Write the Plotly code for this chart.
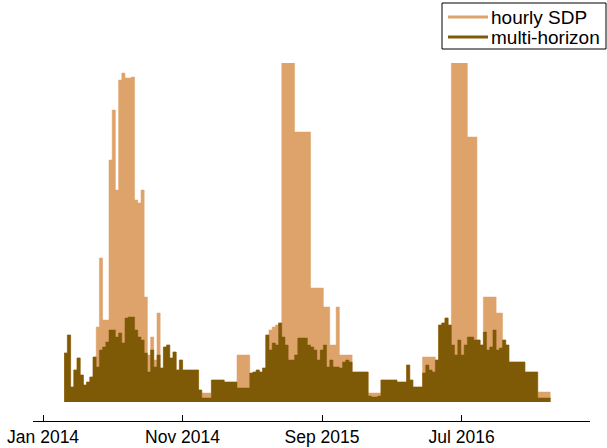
import pandas as pd
import plotly.graph_objects as go

# weekly samples, first and last
start_date = "2014-02-16"
end_date = "2017-01-04"

multi_horizon = [49, 67, 15, 32, 44, 27, 17, 20, 25, 45, 35, 52, 55, 60, 72, 72, 65, 69, 59, 84,
                 85, 85, 72, 65, 62, 49, 30, 52, 35, 47, 34, 55, 57, 44, 50, 32, 42, 32, 32, 32,
                 32, 32, 12, 4, 4, 4, 22, 22, 22, 22, 20, 20, 20, 20, 14, 14, 14, 14, 29, 30,
                 32, 30, 34, 67, 52, 59, 57, 79, 65, 57, 42, 42, 47, 64, 64, 64, 57, 55, 52, 42,
                 52, 57, 35, 42, 35, 35, 34, 40, 42, 40, 30, 30, 30, 30, 30, 6, 5, 5, 6, 22,
                 22, 22, 22, 22, 20, 20, 20, 37, 22, 15, 15, 15, 29, 37, 32, 30, 42, 77, 79, 84,
                 77, 57, 47, 62, 47, 57, 65, 65, 62, 62, 57, 70, 52, 55, 72, 52, 54, 62, 57, 40,
                 40, 40, 40, 40, 30, 30, 30, 30, 4, 4, 4, 4]

hourly_sdp = [49, 67, 15, 32, 44, 27, 17, 20, 25, 45, 75, 144, 82, 82, 242, 292, 212, 322, 329, 324,
              324, 325, 202, 199, 212, 105, 47, 65, 42, 89, 34, 55, 57, 44, 50, 32, 42, 32, 32, 32,
              32, 32, 12, 9, 9, 9, 22, 22, 22, 22, 20, 20, 20, 20, 47, 47, 47, 47, 29, 30,
              32, 30, 34, 67, 72, 75, 77, 79, 360, 360, 360, 360, 270, 270, 270, 270, 270, 114, 114, 114,
              114, 95, 95, 57, 57, 95, 47, 47, 47, 47, 30, 30, 30, 30, 30, 9, 9, 9, 9, 22,
              22, 22, 22, 22, 20, 20, 20, 37, 22, 15, 15, 15, 45, 45, 45, 45, 42, 77, 79, 84,
              77, 360, 360, 360, 360, 360, 265, 265, 265, 62, 57, 105, 105, 105, 105, 89, 89, 62, 57, 40,
              40, 40, 40, 40, 30, 30, 30, 30, 10, 10, 10, 10]

series_names = ["hourly SDP", "multi-horizon"]
tick_labels = ["Jan 2014", "Nov 2014", "Sep 2015", "Jul 2016"]
tick_dates = ["2014-01-01", "2014-11-01", "2015-09-01", "2016-07-01"]

TAN = "#DEA36B"
DARK = "#7F5A06"
colors = [TAN, DARK]

W, H = 607, 448
ML, MR, MT, MB = 33, 17, 63, 27

dates = list(pd.date_range(start_date, end_date, periods=len(multi_horizon)))
step = dates[1] - dates[0]
x = dates + [dates[-1] + step]

fig = go.Figure()
for name, vals, col in zip(series_names, [hourly_sdp, multi_horizon], colors):
    fig.add_trace(go.Scatter(x=x, y=vals + [vals[-1]], mode="lines", name=name,
                             line=dict(shape="hv", width=0.5, color=col),
                             fill="tozeroy", fillcolor=col, showlegend=False, hoverinfo="skip"))

# manual legend (box, line samples, labels) in pixel-derived paper coordinates
pw, ph = W - ML - MR, H - MT - MB
def px(xp):
    return (xp - ML) / pw
def py(yp):
    return (H - MB - yp) / ph

box_l, box_r, box_t, box_b = 442, 606, 3, 49
fig.add_shape(type="rect", xref="paper", yref="paper",
              x0=px(box_l), x1=px(box_r), y0=py(box_b), y1=py(box_t),
              line=dict(color="black", width=1), fillcolor="white", layer="above")
for i, (name, col) in enumerate(zip(series_names, colors)):
    yc = 17 + 20 * i
    fig.add_shape(type="line", xref="paper", yref="paper",
                  x0=px(448), x1=px(488), y0=py(yc), y1=py(yc),
                  line=dict(color=col, width=3), layer="above")
    fig.add_annotation(text=name, xref="paper", yref="paper", x=px(489), y=py(yc + 0.5),
                       xanchor="left", yanchor="middle", showarrow=False,
                       font=dict(size=19, color="black"))

fig.update_layout(
    width=W, height=H,
    margin=dict(l=ML, r=MR, t=MT, b=MB, autoexpand=False),
    paper_bgcolor="white", plot_bgcolor="white",
    font=dict(family="Liberation Sans, Arial, sans-serif", color="black", size=17),
    showlegend=False,
    xaxis=dict(type="date", range=["2013-12-10", "2017-04-07"],
               tickvals=tick_dates, ticktext=tick_labels,
               showline=True, linecolor="black", linewidth=1,
               ticks="inside", ticklen=6, tickcolor="black", tickwidth=1,
               showgrid=False, zeroline=False, tickfont=dict(size=17.5)),
    yaxis=dict(range=[-19, 339], visible=False, showgrid=False, zeroline=False),
)

fig.write_html("out.html")
